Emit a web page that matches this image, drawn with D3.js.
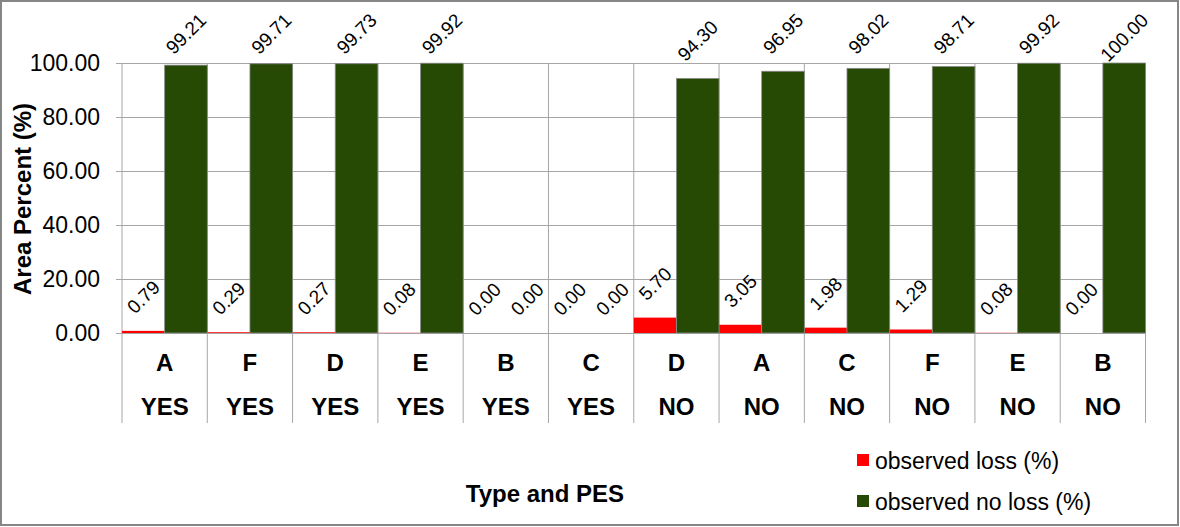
<!DOCTYPE html>
<html>
<head>
<meta charset="utf-8">
<script src="https://cdn.jsdelivr.net/npm/d3@7"></script>
<style>
  html, body { margin: 0; padding: 0; background: #fff; }
  svg { display: block; font-family: "Liberation Sans", Arial, sans-serif; }
</style>
</head>
<body>
<svg id="chart" width="1180" height="527"></svg>
<script>
// ---- data ----
const types = ["A", "F", "D", "E", "B", "C", "D", "A", "C", "F", "E", "B"];
const pes = ["YES", "YES", "YES", "YES", "YES", "YES", "NO", "NO", "NO", "NO", "NO", "NO"];
const observedLoss = [0.79, 0.29, 0.27, 0.08, 0.00, 0.00, 5.70, 3.05, 1.98, 1.29, 0.08, 0.00];
const observedNoLoss = [99.21, 99.71, 99.73, 99.92, 0.00, 0.00, 94.30, 96.95, 98.02, 98.71, 99.92, 100.00];
const seriesNames = ["observed loss (%)", "observed no loss (%)"];
const seriesColors = ["#ff0000", "#264a04"];
const yTicks = [0, 20, 40, 60, 80, 100];

// ---- layout ----
const W = 1180, H = 527;
const plot = { left: 122, right: 1145.5, top: 63, bottom: 333 };
const catBottom = 423;

const svg = d3.select("#chart");

// outer border
svg.append("rect")
  .attr("x", 1).attr("y", 1).attr("width", W - 3).attr("height", H - 3)
  .attr("fill", "#fff").attr("stroke", "#868686").attr("stroke-width", 2);

const idx = d3.range(types.length);
const x = d3.scaleBand().domain(idx).range([plot.left, plot.right]).padding(0);
const xs = d3.scaleBand().domain([0, 1]).range([0, x.bandwidth()]).padding(0);
const y = d3.scaleLinear().domain([0, 100]).range([plot.bottom, plot.top]);
const fmt = d3.format(".2f");

// horizontal gridlines + y axis
const yAxis = d3.axisLeft(y).tickValues(yTicks).tickFormat(fmt)
  .tickSize(-(plot.right - plot.left)).tickPadding(0);
const gy = svg.append("g").attr("transform", `translate(${plot.left},0)`).call(yAxis);
gy.select(".domain").remove();
gy.selectAll(".tick line").attr("stroke", "#a6a6a6").attr("stroke-width", 1)
  .attr("x1", -6);
gy.selectAll(".tick text")
  .attr("x", -22)
  .attr("font-size", 23)
  .attr("fill", "#000")
  .attr("font-family", "'Liberation Sans', Arial, sans-serif");

// vertical category boundaries
const bounds = idx.map(i => x(i)).concat([plot.right]);
svg.append("g").selectAll("line").data(bounds).join("line")
  .attr("x1", d => d).attr("x2", d => d)
  .attr("y1", plot.top).attr("y2", catBottom)
  .attr("stroke", "#a6a6a6").attr("stroke-width", 1);

// bars
const series = [observedLoss, observedNoLoss];
series.forEach((vals, s) => {
  svg.append("g").selectAll("rect").data(vals).join("rect")
    .attr("x", (d, i) => x(i) + xs(s))
    .attr("width", xs.bandwidth())
    .attr("y", d => y(d))
    .attr("height", d => plot.bottom - y(d))
    .attr("fill", seriesColors[s])
    .attr("stroke", s === 1 ? "#8c8c8c" : "none")
    .attr("stroke-width", s === 1 ? 0.8 : 0);
});

// data labels (rotated -45)
const labelSize = 19;
series.forEach((vals, s) => {
  const g = svg.append("g");
  vals.forEach((v, i) => {
    const cx = x(i) + xs(s) + xs.bandwidth() / 2;
    const t = g.append("text")
      .attr("text-anchor", "middle")
      .attr("dy", "0.35em")
      .attr("font-size", labelSize)
      .attr("fill", "#000")
      .text(fmt(v));
    const w = t.node().getComputedTextLength();
    const halfH = (w + labelSize * 0.72) * Math.SQRT1_2 / 2;
    let cy = y(v) - 16 - halfH;
    cy = Math.max(cy, 12 + halfH);
    t.attr("transform", `translate(${cx},${cy}) rotate(-45)`);
  });
});

// category labels (two rows)
const cat = svg.append("g").attr("font-weight", "bold").attr("font-size", 24)
  .attr("text-anchor", "middle").attr("fill", "#000");
cat.selectAll("text.t").data(types).join("text").attr("class", "t")
  .attr("x", (d, i) => x(i) + x.bandwidth() / 2).attr("y", 371).text(d => d);
cat.selectAll("text.p").data(pes).join("text").attr("class", "p")
  .attr("x", (d, i) => x(i) + x.bandwidth() / 2).attr("y", 415).text(d => d);

// axis titles
svg.append("text")
  .attr("transform", "translate(31,199) rotate(-90)")
  .attr("text-anchor", "middle").attr("font-weight", "bold").attr("font-size", 24)
  .text("Area Percent (%)");
svg.append("text")
  .attr("x", 545).attr("y", 502)
  .attr("text-anchor", "middle").attr("font-weight", "bold").attr("font-size", 24)
  .text("Type and PES");

// legend
const legY = [454, 495];
const leg = svg.append("g");
seriesNames.forEach((n, s) => {
  leg.append("rect").attr("x", 857).attr("y", legY[s]).attr("width", 12).attr("height", 12)
    .attr("fill", seriesColors[s]);
  leg.append("text").attr("x", 875).attr("y", legY[s] + 15)
    .attr("font-size", 23).attr("fill", "#000").text(n);
});
</script>
</body>
</html>
